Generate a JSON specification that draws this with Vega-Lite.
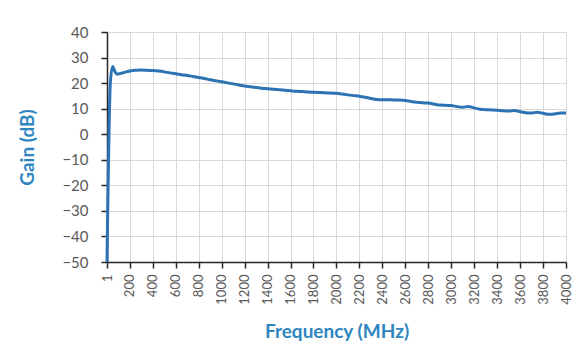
{
  "$schema": "https://vega.github.io/schema/vega-lite/v6.json",
  "autosize": {"type": "none"},
  "width": 459,
  "height": 230,
  "padding": {"left": 107, "top": 32, "right": 15, "bottom": 90},
  "background": "white",
  "config": {
    "font": "Lato",
    "view": {"stroke": "#d9d9d9", "strokeWidth": 1},
    "axis": {
      "gridColor": "#d9d9d9",
      "gridWidth": 1,
      "domainColor": "#262626",
      "domainWidth": 1.5,
      "tickColor": "#262626",
      "tickWidth": 1.5,
      "tickSize": 6,
      "labelColor": "#595959",
      "labelFont": "Lato",
      "titleFont": "Lato",
      "titleColor": "#2E86C1",
      "titleFontWeight": "bold",
      "titleFontSize": 19
    }
  },
  "data": {
    "values": [
      {"f": 1, "g": -50},
      {"f": 30, "g": 20},
      {"f": 50, "g": 26.5},
      {"f": 70, "g": 24.5},
      {"f": 90, "g": 23.5},
      {"f": 120, "g": 23.8},
      {"f": 160, "g": 24.3},
      {"f": 200, "g": 24.7},
      {"f": 250, "g": 25.0},
      {"f": 300, "g": 25.1},
      {"f": 350, "g": 25.0},
      {"f": 400, "g": 24.9},
      {"f": 450, "g": 24.7},
      {"f": 500, "g": 24.4},
      {"f": 550, "g": 24.0},
      {"f": 600, "g": 23.7},
      {"f": 650, "g": 23.3},
      {"f": 700, "g": 23.0},
      {"f": 750, "g": 22.6},
      {"f": 800, "g": 22.2},
      {"f": 850, "g": 21.8},
      {"f": 900, "g": 21.3},
      {"f": 950, "g": 20.9},
      {"f": 1000, "g": 20.5},
      {"f": 1050, "g": 20.1},
      {"f": 1100, "g": 19.7},
      {"f": 1150, "g": 19.3},
      {"f": 1200, "g": 18.9},
      {"f": 1250, "g": 18.6},
      {"f": 1300, "g": 18.3},
      {"f": 1350, "g": 18.0},
      {"f": 1400, "g": 17.8},
      {"f": 1450, "g": 17.6},
      {"f": 1500, "g": 17.4},
      {"f": 1550, "g": 17.2},
      {"f": 1600, "g": 17.0},
      {"f": 1650, "g": 16.8},
      {"f": 1700, "g": 16.7},
      {"f": 1750, "g": 16.5},
      {"f": 1800, "g": 16.4},
      {"f": 1850, "g": 16.3},
      {"f": 1900, "g": 16.2},
      {"f": 1950, "g": 16.1},
      {"f": 2000, "g": 16.0},
      {"f": 2050, "g": 15.7},
      {"f": 2100, "g": 15.4},
      {"f": 2150, "g": 15.1},
      {"f": 2200, "g": 14.9},
      {"f": 2250, "g": 14.5},
      {"f": 2300, "g": 14.0},
      {"f": 2350, "g": 13.6},
      {"f": 2400, "g": 13.5},
      {"f": 2450, "g": 13.5},
      {"f": 2500, "g": 13.4},
      {"f": 2550, "g": 13.4},
      {"f": 2600, "g": 13.2},
      {"f": 2650, "g": 12.8},
      {"f": 2700, "g": 12.5},
      {"f": 2750, "g": 12.3},
      {"f": 2800, "g": 12.2},
      {"f": 2850, "g": 11.8},
      {"f": 2900, "g": 11.4},
      {"f": 2950, "g": 11.3},
      {"f": 3000, "g": 11.2},
      {"f": 3050, "g": 10.8},
      {"f": 3100, "g": 10.6},
      {"f": 3150, "g": 10.8},
      {"f": 3200, "g": 10.3},
      {"f": 3250, "g": 9.8},
      {"f": 3300, "g": 9.6},
      {"f": 3350, "g": 9.5},
      {"f": 3400, "g": 9.4},
      {"f": 3450, "g": 9.2},
      {"f": 3500, "g": 9.1},
      {"f": 3550, "g": 9.3},
      {"f": 3600, "g": 8.8},
      {"f": 3650, "g": 8.4},
      {"f": 3700, "g": 8.3},
      {"f": 3750, "g": 8.6},
      {"f": 3800, "g": 8.2},
      {"f": 3850, "g": 7.8},
      {"f": 3900, "g": 7.9},
      {"f": 3950, "g": 8.3},
      {"f": 4000, "g": 8.3}
    ]
  },
  "mark": {"type": "line", "color": "#2b73b3", "strokeWidth": 3, "interpolate": "monotone"},
  "encoding": {
    "x": {
      "field": "f",
      "type": "quantitative",
      "scale": {"domain": [1, 4000], "nice": false, "zero": false},
      "axis": {
        "title": "Frequency (MHz)",
        "values": [1, 200, 400, 600, 800, 1000, 1200, 1400, 1600, 1800, 2000, 2200, 2400, 2600, 2800, 3000, 3200, 3400, 3600, 3800, 4000],
        "format": "d",
        "labelAngle": 270,
        "labelFontSize": 13,
        "labelPadding": 6,
        "labelOverlap": false,
        "titlePadding": 18
      }
    },
    "y": {
      "field": "g",
      "type": "quantitative",
      "scale": {"domain": [-50, 40], "nice": false},
      "axis": {
        "title": "Gain (dB)",
        "values": [-50, -40, -30, -20, -10, 0, 10, 20, 30, 40],
        "labelFontSize": 15,
        "labelPadding": 13,
        "titlePadding": 24
      }
    }
  }
}
